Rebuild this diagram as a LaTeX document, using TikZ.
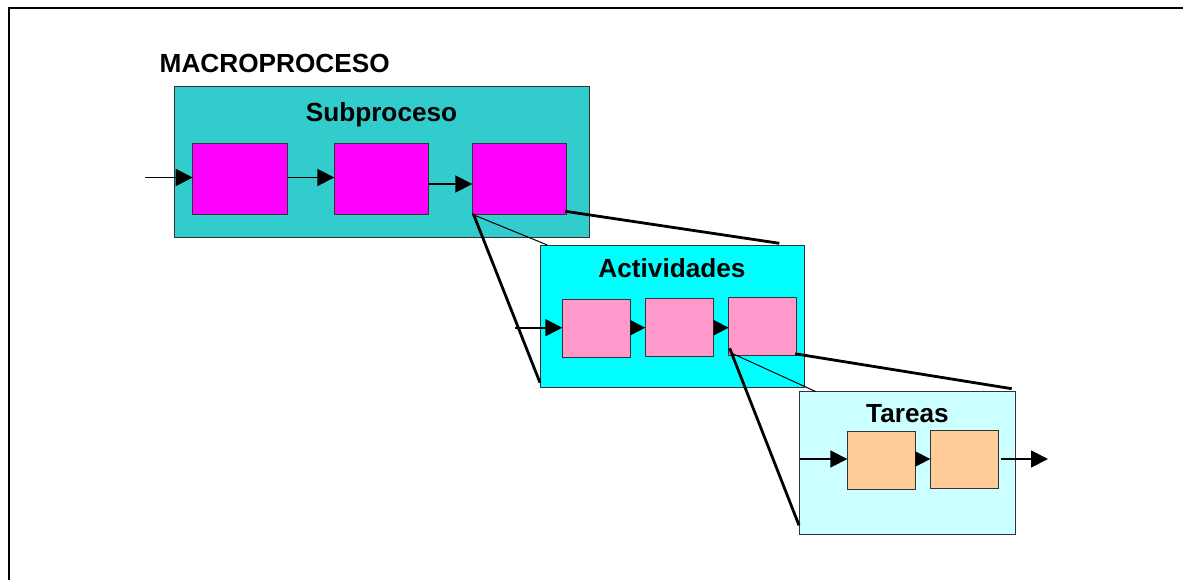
\documentclass[tikz,border=0pt]{standalone}
\usepackage{fontspec}
\setmainfont{Liberation Sans}
\usetikzlibrary{arrows.meta,calc}

\definecolor{subfill}{HTML}{33CCCC}
\definecolor{actfill}{HTML}{00FFFF}
\definecolor{tarfill}{HTML}{CCFFFF}
\definecolor{stepmag}{HTML}{FF00FF}
\definecolor{steppink}{HTML}{FF99CC}
\definecolor{steppeach}{HTML}{FFCC99}
\definecolor{edgegray}{HTML}{333333}

\tikzset{
  panel/.style={draw=edgegray, line width=1pt, inner sep=0pt, outer sep=0pt},
  stepbox/.style={draw=edgegray, line width=1pt, inner sep=0pt, outer sep=0pt},
  title/.style={font=\bfseries\fontsize{26.2}{30}\selectfont, inner sep=0pt, anchor=base},
  flow/.style={line width=1.8pt, -{Triangle[length=17pt,width=17pt]}},
  flowsm/.style={line width=1.8pt, -{Triangle[length=15pt,width=15pt]}},
  zoomthick/.style={line width=2.8pt},
  zoomthin/.style={line width=1pt},
}

\begin{document}
\begin{tikzpicture}[x=1pt,y=-1pt]
\useasboundingbox (0,0) rectangle (1183,580);
\fill[white] (0,0) rectangle (1183,580);

% outer frame (open to the right and bottom)
\draw[line width=2.2pt] (8.7,580) -- (8.7,7.8) -- (1183,7.8);

\node[title, anchor=base west] (macro) at (159.5,72.3) {MACROPROCESO};

% ---- Subproceso level
\node[panel, fill=subfill, minimum width=415pt, minimum height=151pt] (sub) at (381.5,162) {};
\node[title] (subt) at (381.5,121.7) {Subproceso};
\node[stepbox, fill=stepmag, minimum width=95pt, minimum height=71pt] (s1) at (240.2,178.8) {};
\node[stepbox, fill=stepmag, minimum width=94.4pt, minimum height=71pt] (s2) at (381.5,178.8) {};
\node[stepbox, fill=stepmag, minimum width=94.4pt, minimum height=71pt] (s3) at (519.5,178.8) {};
\coordinate (sin) at (145,177.5);
\draw[flow] (sin) -- (s1.west |- sin);
\draw[flow] (s1.east |- 0,177.5) -- (s2.west |- 0,177.5);
\draw[flow] (s2.east |- 0,184) -- (s3.west |- 0,184);

% ---- Actividades level
\node[panel, fill=actfill, minimum width=264pt, minimum height=142pt] (act) at (672,316) {};
\node[title] (actt) at (672,277.3) {Actividades};
\node[stepbox, fill=steppink, minimum width=68.4pt, minimum height=58.4pt] (a1) at (596.5,328.5) {};
\node[stepbox, fill=steppink, minimum width=68.4pt, minimum height=58pt] (a2) at (679.5,327.3) {};
\node[stepbox, fill=steppink, minimum width=68pt, minimum height=58pt] (a3) at (762.7,326.3) {};
\coordinate (ain) at (515,327.7);
\draw[flow] (ain) -- (a1.west |- ain);
\draw[flowsm] (a1.east |- ain) -- (a2.west |- ain);
\draw[flowsm] (a2.east |- ain) -- (a3.west |- ain);

% zoom lines from the third subprocess step
\coordinate (z1) at (779.3,243.3);
\coordinate (z2) at (540,382.7);
\coordinate (z3) at (547.3,245);
\draw[zoomthick] ($(s3.south east)+(-1.5,-3)$) -- (z1);
\draw[zoomthick] ($(s3.south west)+(1,-0.5)$) -- (z2);
\draw[zoomthin] (s3.south west) -- (z3);

% ---- Tareas level
\node[panel, fill=tarfill, minimum width=215.3pt, minimum height=142.3pt] (tar) at (907.6,462.9) {};
\node[title] (tart) at (907.5,422.7) {Tareas};
\node[stepbox, fill=steppeach, minimum width=68pt, minimum height=58pt] (t1) at (881.3,460.3) {};
\node[stepbox, fill=steppeach, minimum width=68pt, minimum height=58pt] (t2) at (964.3,459.3) {};
\coordinate (tin) at (800,459);
\coordinate (tout) at (1048,459);
\draw[flow] (tin) -- (t1.west |- tin);
\draw[flowsm] (t1.east |- tin) -- (t2.west |- tin);
\draw[flow] ($(t2.east |- tin)+(2.5,0)$) -- (tout);

% zoom lines from the third activity
\coordinate (z4) at (1011.7,388.7);
\coordinate (z5) at (799,525.3);
\coordinate (z6) at (816,391.7);
\draw[zoomthick] ($(a3.south east)+(-1.5,-1.5)$) -- (z4);
\draw[zoomthick] ($(a3.south west)+(1,-7)$) -- (z5);
\draw[zoomthin] ($(a3.south west)+(1,-3)$) -- (z6);
\end{tikzpicture}
\end{document}
